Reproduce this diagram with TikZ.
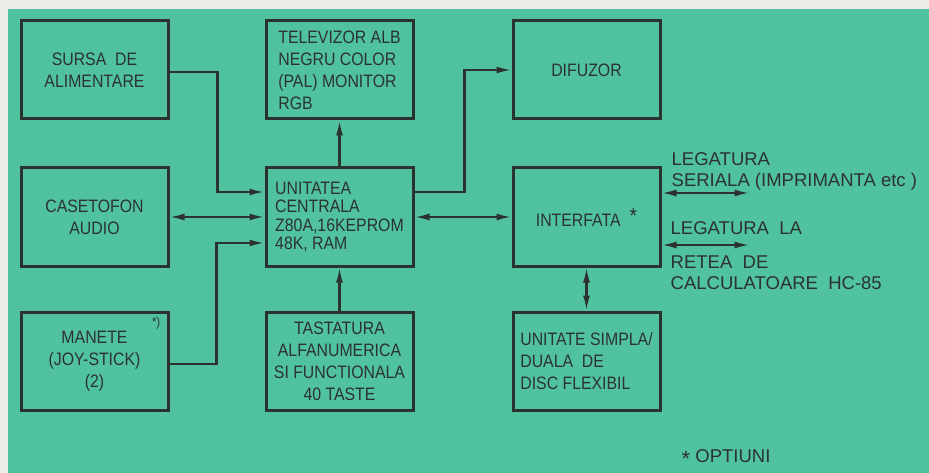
\documentclass[tikz,border=0pt]{standalone}
\usepackage{fontspec}
\setmainfont[FakeStretch=0.88]{Liberation Sans}
\newfontfamily\notefont{Liberation Sans}
\usepackage{tikz}
\usetikzlibrary{arrows.meta, positioning}
\definecolor{paper}{RGB}{236,235,229}
\definecolor{panelgreen}{RGB}{80,194,160}
\definecolor{ink}{RGB}{44,50,48}

\begin{document}
\begin{tikzpicture}[x=1pt, y=-1pt, font=\fontsize{18}{22}\selectfont, text=ink]
    \tikzstyle{unit} = [rectangle, minimum width=147pt, minimum height=98pt, draw=ink, line width=3pt, align=center, inner sep=2pt]
    \tikzstyle{wire} = [draw=ink, line width=2.2pt, >={Latex[length=15pt, width=7pt]}]
    \tikzstyle{note} = [align=left, inner sep=0pt, font=\notefont\fontsize{18.5}{21}\selectfont]

    \fill[paper] (0,0) rectangle (929,473);
    \fill[panelgreen] (8,9) rectangle (929,473);
    \useasboundingbox (0,0) rectangle (929,473);

    \node (sursa) [unit] at (94.5,70) {SURSA~~DE\\ALIMENTARE};
    \node (televizor) [unit, align=left, right=95pt of sursa] {TELEVIZOR ALB\\NEGRU COLOR\\(PAL) MONITOR\\RGB};
    \node (difuzor) [unit, right=97pt of televizor] {DIFUZOR};
    \node (casetofon) [unit, below=46pt of sursa] {CASETOFON\\AUDIO};
    \node (centrala) [unit, align=left, font=\fontsize{18}{18.5}\selectfont, below=46pt of televizor] {UNITATEA\\CENTRALA\\Z80A,16KEPROM\\48K, RAM};
    \node (interfata) [unit, below=46pt of difuzor] {INTERFATA\enspace\raisebox{3pt}{\fontsize{22}{22}\selectfont*}};
    \node (manete) [unit, below=43pt of casetofon] {MANETE\\(JOY-STICK)\\(2)};
    \node (tastatura) [unit, below=43pt of centrala] {TASTATURA\\ALFANUMERICA\\SI FUNCTIONALA\\40 TASTE};
    \node (disc) [unit, align=left, below=43pt of interfata] {UNITATE SIMPLA/\\DUALA~~DE\\DISC FLEXIBIL};
    \node (manetestar) [below left=6pt and 9pt of manete.north east, inner sep=0pt, font=\fontsize{13}{13}\selectfont] {*)};

    \draw [wire, ->] ([yshift=-2pt]sursa.east) -- ++(48pt,0) |- ([yshift=25pt]centrala.west);
    \draw [wire, <->] (casetofon) -- (centrala);
    \draw [wire, ->] ([yshift=-3pt]manete.east) -- ++(47pt,0) |- ([yshift=-26pt]centrala.west);
    \draw [wire, ->] (centrala) -- (televizor);
    \draw [wire, ->] (tastatura) -- (centrala);
    \draw [wire, ->] ([yshift=25pt]centrala.east) -- ++(50pt,0) |- (difuzor.west);
    \draw [wire, <->] (centrala) -- (interfata);
    \draw [wire, <->] (interfata) -- (disc);

    \coordinate (serialstart) at ([yshift=24pt]interfata.east);
    \coordinate (serialend) at ([xshift=88pt, yshift=24pt]interfata.east);
    \coordinate (reteastart) at ([yshift=-28pt]interfata.east);
    \coordinate (reteaend) at ([xshift=88pt, yshift=-28pt]interfata.east);
    \draw [wire, <->] (serialstart) -- (serialend);
    \draw [wire, <->] (reteastart) -- (reteaend);

    \node (serial) [note, above right=2pt and 10pt of serialstart] {LEGATURA\\SERIALA (IMPRIMANTA etc )};
    \node (legla) [note, above right=10pt and 9pt of reteastart] {LEGATURA~~LA};
    \node (retea) [note, below right=11pt and 9pt of reteastart] {RETEA~~DE\\CALCULATOARE~~HC-85};
    \node (optiuni) [note, below right=38pt and 20pt of disc.south east] {\raisebox{-4pt}{\fontsize{22}{22}\selectfont*} OPTIUNI};
\end{tikzpicture}
\end{document}
